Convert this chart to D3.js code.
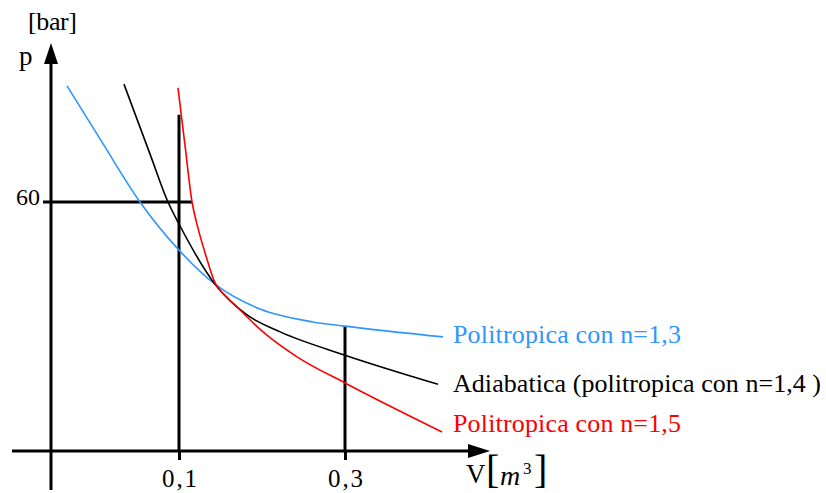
<!DOCTYPE html>
<html>
<head>
<meta charset="utf-8">
<script src="https://cdn.jsdelivr.net/npm/d3@7"></script>
<style>
  body { margin: 0; background: #fff; }
  svg { display: block; font-family: "Liberation Serif", "Times New Roman", Times, "Nimbus Roman", serif; }
</style>
</head>
<body>
<div id="chart"></div>
<script>
// volumes [m3] and pressures [bar]
var vN13 = [0.0125, 0.0383, 0.0695, 0.1, 0.1434, 0.1976, 0.2614, 0.3, 0.418];
var pN13 = [88.0, 75.2, 60, 48.4, 40.2, 34.2, 31.1, 30.1, 27.5];

var vN14 = [0.057, 0.0773, 0.0914, 0.1, 0.1434, 0.182, 0.222, 0.3, 0.412];
var pN14 = [88.4, 71.6, 60, 54.7, 40.2, 32.8, 28.7, 23.1, 16.1];

var vN15 = [0.0992, 0.1072, 0.1157, 0.1229, 0.1325, 0.1434, 0.1566, 0.1699, 0.2012, 0.2422, 0.3, 0.4169];
var pN15 = [87.5, 73.7, 60, 53.7, 47.0, 40.5, 37.3, 34.7, 28.7, 22.7, 16.4, 4.6];

var seriesNames = ["Politropica con n=1,3", "Adiabatica (politropica con n=1,4 )", "Politropica con n=1,5"];
var xTicks = [0.1, 0.3];
var yTicks = [60];

var width = 826, height = 493;

/* the drawing is schematic, so the V axis is piecewise */
var x = d3.scaleLinear().domain([0, 0.1, 0.3]).range([51, 179, 345]);
var y = d3.scaleLinear().domain([0, 60]).range([451, 202]);

var itFmt = d3.formatLocale({decimal: ",", thousands: ".", grouping: [3], currency: ["", ""]}).format(".1f");

var svg = d3.select("#chart").append("svg")
    .attr("width", width)
    .attr("height", height);

svg.append("rect").attr("width", width).attr("height", height).attr("fill", "#fff");

// guide lines to the marked points
svg.append("line")
    .attr("x1", x(0) - 8).attr("x2", x(vN15[2]))
    .attr("y1", y(60)).attr("y2", y(60))
    .attr("stroke", "#000").attr("stroke-width", 3);
svg.append("line")
    .attr("x1", x(0.1)).attr("x2", x(0.1))
    .attr("y1", y(81)).attr("y2", y(0))
    .attr("stroke", "#000").attr("stroke-width", 3);
svg.append("line")
    .attr("x1", x(0.3)).attr("x2", x(0.3))
    .attr("y1", y(pN13[7])).attr("y2", y(0))
    .attr("stroke", "#000").attr("stroke-width", 3);

// axis lines + arrows
svg.append("line")
    .attr("x1", 12).attr("x2", 470)
    .attr("y1", y(0)).attr("y2", y(0))
    .attr("stroke", "#000").attr("stroke-width", 3);
svg.append("path")
    .attr("d", "M490," + y(0) + "L468," + (y(0) - 7) + "L468," + (y(0) + 7) + "Z")
    .attr("fill", "#000");
svg.append("line")
    .attr("x1", x(0)).attr("x2", x(0))
    .attr("y1", 60).attr("y2", 490)
    .attr("stroke", "#000").attr("stroke-width", 3);
svg.append("path")
    .attr("d", "M" + x(0) + ",43L" + (x(0) - 7) + ",64L" + (x(0) + 7) + ",64Z")
    .attr("fill", "#000");

// ticks and labels
var xAxis = d3.axisBottom(x).tickValues(xTicks).tickSize(9).tickPadding(9).tickFormat(itFmt);
var gx = svg.append("g")
    .attr("transform", "translate(0," + y(0) + ")")
    .call(xAxis);
gx.select(".domain").remove();
gx.attr("font-family", null);
gx.selectAll(".tick line").attr("stroke", "#000").attr("stroke-width", 3);
gx.selectAll(".tick text")
    .attr("fill", "#000")
    .style("font-size", "25px")
    .attr("textLength", 35);

var yAxis = d3.axisLeft(y).tickValues(yTicks).tickSize(0).tickPadding(11);
var gy = svg.append("g")
    .attr("transform", "translate(" + x(0) + ",0)")
    .call(yAxis);
gy.select(".domain").remove();
gy.attr("font-family", null);
gy.selectAll(".tick text")
    .attr("fill", "#000")
    .attr("dy", "0.12em")
    .style("font-size", "24px");

// curves
var colors = ["#2e96ff", "#000000", "#ff0000"];
var vs = [vN13, vN14, vN15], ps = [pN13, pN14, pN15];
var line = d3.line()
    .x(function(d) { return x(d[0]); })
    .y(function(d) { return y(d[1]); })
    .curve(d3.curveMonotoneX);

vs.forEach(function(v, k) {
    var pts = v.map(function(d, i) { return [d, ps[k][i]]; });
    svg.append("path")
        .attr("d", line(pts))
        .attr("fill", "none")
        .attr("stroke", colors[k])
        .attr("stroke-width", 1.6);
});

// series labels
var labelY = [343, 392, 432];
var labelW = [228, 368, 228];
seriesNames.forEach(function(s, k) {
    svg.append("text")
        .attr("x", 453)
        .attr("y", labelY[k])
        .attr("fill", colors[k])
        .attr("textLength", labelW[k])
        .style("font-size", "26px")
        .text(s);
});

// axis titles
svg.append("text").attr("x", 28).attr("y", 30).attr("textLength", 49).style("font-size", "26px").text("[bar]");
svg.append("text").attr("x", 19).attr("y", 65).style("font-size", "27px").text("p");
svg.append("text").attr("x", 466).attr("y", 483).style("font-size", "27px").text("V");
svg.append("text").attr("x", 486).attr("y", 483).style("font-size", "40px").text("[");
svg.append("text").attr("x", 500).attr("y", 485).style("font-size", "28px").style("font-style", "italic").text("m");
svg.append("text").attr("x", 523).attr("y", 474).style("font-size", "17px").text("3");
svg.append("text").attr("x", 534).attr("y", 483).style("font-size", "40px").text("]");
</script>
</body>
</html>
